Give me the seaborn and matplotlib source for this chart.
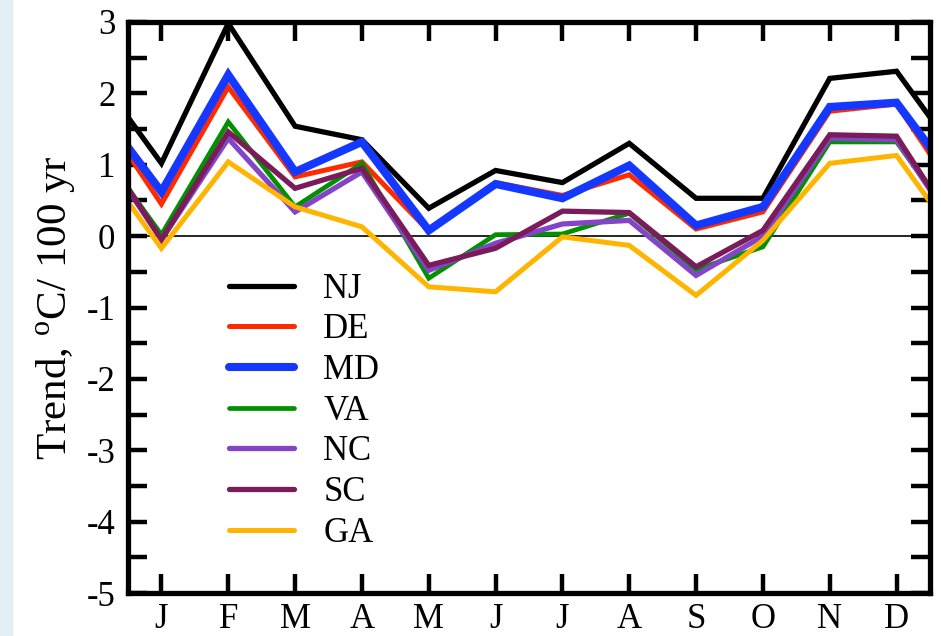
import numpy as np
import pandas as pd
import matplotlib
matplotlib.use("Agg")
import matplotlib.pyplot as plt
import seaborn as sns
from matplotlib.patches import Rectangle

months = ["J", "F", "M", "A", "M", "J", "J", "A", "S", "O", "N", "D"]
states = ["NJ", "DE", "MD", "VA", "NC", "SC", "GA"]

NJ = [1.02, 2.98, 1.54, 1.35, 0.39, 0.92, 0.75, 1.30, 0.53, 0.53, 2.21, 2.31]
DE = [0.45, 2.09, 0.83, 1.04, 0.07, 0.75, 0.57, 0.86, 0.10, 0.34, 1.75, 1.85]
MD = [0.62, 2.26, 0.90, 1.32, 0.08, 0.73, 0.53, 0.99, 0.15, 0.41, 1.81, 1.87]
VA = [0.02, 1.60, 0.41, 1.02, -0.59, 0.02, 0.03, 0.32, -0.47, -0.15, 1.32, 1.32]
NC = [-0.05, 1.37, 0.34, 0.90, -0.48, -0.10, 0.17, 0.22, -0.55, 0.00, 1.37, 1.35]
SC = [-0.05, 1.46, 0.67, 0.95, -0.41, -0.17, 0.35, 0.33, -0.43, 0.08, 1.42, 1.40]
GA = [-0.17, 1.04, 0.41, 0.13, -0.71, -0.78, -0.01, -0.13, -0.83, -0.06, 1.02, 1.13]

series = {"NJ": NJ, "DE": DE, "MD": MD, "VA": VA, "NC": NC, "SC": SC, "GA": GA}
colors = {"NJ": "#000000", "DE": "#ff2a00", "MD": "#1438ff", "VA": "#009000",
          "NC": "#8444c8", "SC": "#7a1c5a", "GA": "#ffb400"}
widths = {"NJ": 3.8, "DE": 3.6, "MD": 5.8, "VA": 3.4, "NC": 3.8, "SC": 3.8, "GA": 3.6}

# wrap-around (previous Dec, Jan..Dec, next Jan), clipped by axis limits
rows = []
for s in states:
    v = series[s]
    wrapped = [v[-1]] + v + [v[0]]
    for i, val in enumerate(wrapped):
        rows.append({"month": i, "trend": val, "state": s})
df = pd.DataFrame(rows)

sns.set_style("ticks")
plt.rcParams["font.family"] = ["Liberation Serif", "DejaVu Serif"]
plt.rcParams["mathtext.fontset"] = "custom"
plt.rcParams["mathtext.rm"] = "Liberation Serif"
plt.rcParams["axes.unicode_minus"] = False
plt.rcParams["axes.edgecolor"] = "black"
plt.rcParams["xtick.color"] = "black"
plt.rcParams["ytick.color"] = "black"
plt.rcParams["text.color"] = "black"
plt.rcParams["axes.labelcolor"] = "black"

fig = plt.figure(figsize=(9.41, 6.36), dpi=100)
fig.patches.append(Rectangle((0, 0), 12 / 941, 1, transform=fig.transFigure,
                             color="#e2eff6", zorder=-1))
ax = fig.add_axes([128 / 941, 1 - 593 / 636, (930 - 128) / 941, (593 - 22) / 636])

for s in states:
    sns.lineplot(data=df[df.state == s], x="month", y="trend", color=colors[s],
                 linewidth=widths[s], label=s, ax=ax, solid_joinstyle="miter")

ax.axhline(0, color="black", lw=1.2, zorder=1)

ax.set_xlim(0.5, 12.5)
ax.set_ylim(-5, 3)
ax.set_xticks(range(1, 13))
ax.set_xticklabels(months)
ax.set_yticks(range(-5, 4))
ax.set_yticks(np.arange(-4.5, 3, 1.0), minor=True)
ax.set_xlabel("")
ax.set_ylabel(r"Trend, $^{\mathregular{o}}$C/ 100 yr", fontsize=31, labelpad=6)

ax.tick_params(which="both", direction="in", top=True, right=True,
               length=14, width=3.2, labelsize=25)
ax.tick_params(axis="y", pad=9)
ax.tick_params(axis="x", pad=7)
for sp in ax.spines.values():
    sp.set_linewidth(3.8)
    sp.set_visible(True)

ax.legend(loc="upper left", bbox_to_anchor=(0.109, 0.585), frameon=False,
          fontsize=25, handlelength=1.87, handletextpad=0.84, labelspacing=0.22,
          borderaxespad=0)

fig.savefig("out.png", dpi=100)
